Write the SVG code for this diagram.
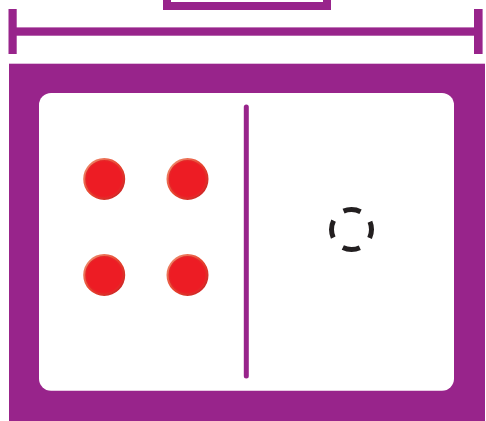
<svg xmlns="http://www.w3.org/2000/svg" width="486" height="421" viewBox="0 0 486 421">
<defs>
<style>
.purple{fill:#98248B}
.line{stroke:#98248B;fill:none}
.dot{fill:url(#rg);stroke:url(#lg);stroke-width:2}
</style>
<radialGradient id="rg" cx="0.5" cy="0.5" r="0.5">
<stop offset="0.85" stop-color="#ED1C24"/>
<stop offset="1" stop-color="#E0302C"/>
</radialGradient>
<linearGradient id="lg" x1="0" y1="0" x2="1" y2="1">
<stop offset="0" stop-color="#EE9A7A"/>
<stop offset="0.5" stop-color="#E8442F"/>
<stop offset="1" stop-color="#C81E24"/>
</linearGradient>
</defs>
<g id="top-box">
<path class="line" d="M167,-5 V6 H327 V-5" stroke-width="8"/>
</g>
<g id="dimension">
<rect class="purple" x="8.5" y="9" width="8.2" height="45"/>
<rect class="purple" x="474" y="9" width="8.6" height="45"/>
<rect class="purple" x="16" y="27.4" width="459" height="8.3"/>
</g>
<g id="frame">
<rect class="purple" x="9" y="63.7" width="476" height="357.3"/>
<rect x="39" y="93" width="415" height="297.7" rx="12" fill="#FFFFFF"/>
</g>
<g id="divider">
<line class="line" x1="246.3" y1="107" x2="246.3" y2="376" stroke-width="5" stroke-linecap="round"/>
</g>
<g id="dots">
<circle class="dot" cx="104.2" cy="179" r="20"/>
<circle class="dot" cx="187.5" cy="179" r="20"/>
<circle class="dot" cx="104.2" cy="275" r="20"/>
<circle class="dot" cx="187.5" cy="275" r="20"/>
</g>
<g id="empty-slot">
<circle cx="351.5" cy="229.5" r="20" fill="none" stroke="#231F20" stroke-width="5" stroke-dasharray="17.5 13.92" stroke-dashoffset="8.75"/>
</g>
</svg>
